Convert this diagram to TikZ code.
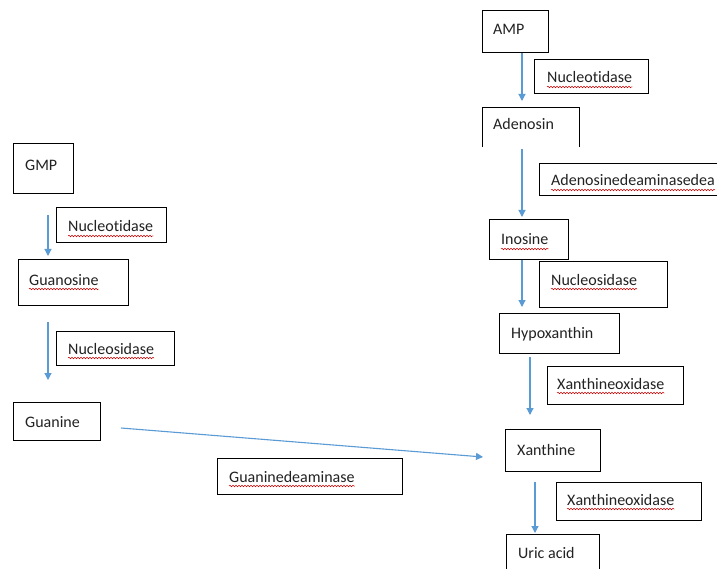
\documentclass[tikz,border=0pt]{standalone}
\usepackage{fontspec}
\setmainfont{Carlito}[Ligatures=NoCommon]
\usetikzlibrary{decorations.pathmorphing,arrows.meta}
\definecolor{arrowblue}{HTML}{5B9BD5}
\definecolor{txtgray}{HTML}{222222}
\tikzset{
  box/.style={draw=black, line width=0.9pt, fill=none},
  lbl/.style={anchor=base west, inner sep=0pt, text=txtgray, font=\fontsize{16}{18}\selectfont},
  arr/.style={draw=arrowblue, line width=1.1pt, -{Triangle[length=7pt,width=7pt]}},
  wavy/.style={draw=red!80!black, line width=0.5pt, decorate, decoration={snake, amplitude=0.8pt, segment length=3pt}}
}
\newcommand{\wavyunder}[1]{\draw[wavy] ([yshift=-4pt]#1.base west) -- ([yshift=-4pt]#1.base east);}
\begin{document}
\begin{tikzpicture}[x=1pt,y=-1pt]
\useasboundingbox (0,0) rectangle (717,569);
\clip (0,0) rectangle (717,569);
\fill[white] (0,0) rectangle (717,569);

% ---------- left column ----------
\draw[box] (13,143) rectangle (73,193);
\node[lbl] (gmp) at (25,171) {GMP};

\draw[box] (56,207) rectangle (166,242);
\node[lbl] (nucL) at (68,232) {Nucleotidase};
\wavyunder{nucL}

\draw[box] (18,259) rectangle (128,305);
\node[lbl] (guanosine) at (29,285) {Guanosine};
\wavyunder{guanosine}

\draw[box] (56,331) rectangle (174,365);
\node[lbl] (nsL) at (68,354) {Nucleosidase};
\wavyunder{nsL}

\draw[box] (13,402) rectangle (100,440);
\node[lbl] (guanine) at (25,427) {Guanine};

\draw[box] (217,458) rectangle (402,494);
\node[lbl] (gdeam) at (229,482) {Guaninedeaminase};
\wavyunder{gdeam}

% ---------- right column ----------
\draw[box] (482,10) rectangle (548,52);
\node[lbl] (amp) at (493,35) {AMP};

\draw[box] (534,59) rectangle (648,93);
\node[lbl] (nucR) at (547,83) {Nucleotidase};
\wavyunder{nucR}

\draw[box] (482,147) -- (482,107) -- (579,107) -- (579,147);
\node[lbl] (adenosin) at (493,130) {Adenosin};

\draw[box] (539,163) rectangle (740,195);
\node[lbl] (adeam) at (551,186) {Adenosinedeaminasedea};
\wavyunder{adeam}

\draw[box] (489,219) rectangle (568,259);
\node[lbl] (inosine) at (501,245) {Inosine};
\wavyunder{inosine}

\draw[box] (539,261) rectangle (667,307);
\node[lbl] (nsR) at (551,285) {Nucleosidase};
\wavyunder{nsR}

\draw[box] (499,313) rectangle (619,353);
\node[lbl] (hypo) at (511,338) {Hypoxanthin};

\draw[box] (547,366) rectangle (683,404);
\node[lbl] (xo1) at (557,389) {Xanthineoxidase};
\wavyunder{xo1}

\draw[box] (505,429) rectangle (600,471);
\node[lbl] (xanthine) at (517,455) {Xanthine};

\draw[box] (556,482) rectangle (701,520);
\node[lbl] (xo2) at (567,505) {Xanthineoxidase};
\wavyunder{xo2}

\draw[box] (506,534) rectangle (599,590);
\node[lbl] (uric) at (518,558) {Uric acid};

% ---------- arrows ----------
\coordinate (a1s) at (48,215);  \coordinate (a1e) at (48,256);
\coordinate (a2s) at (48,322);  \coordinate (a2e) at (48,380);
\coordinate (a3s) at (121,428); \coordinate (a3e) at (483,457);
\coordinate (a4s) at (522,53);  \coordinate (a4e) at (522,101);
\coordinate (a5s) at (522,149); \coordinate (a5e) at (522,217);
\coordinate (a6s) at (522,260); \coordinate (a6e) at (522,307);
\coordinate (a7s) at (530,357); \coordinate (a7e) at (530,415);
\coordinate (a8s) at (535,482); \coordinate (a8e) at (535,533);

\draw[arr] (a1s) -- (a1e);
\draw[arr] (a2s) -- (a2e);
\draw[arr] (a3s) -- (a3e);
\draw[arr] (a4s) -- (a4e);
\draw[arr] (a5s) -- (a5e);
\draw[arr] (a6s) -- (a6e);
\draw[arr] (a7s) -- (a7e);
\draw[arr] (a8s) -- (a8e);
\end{tikzpicture}
\end{document}
